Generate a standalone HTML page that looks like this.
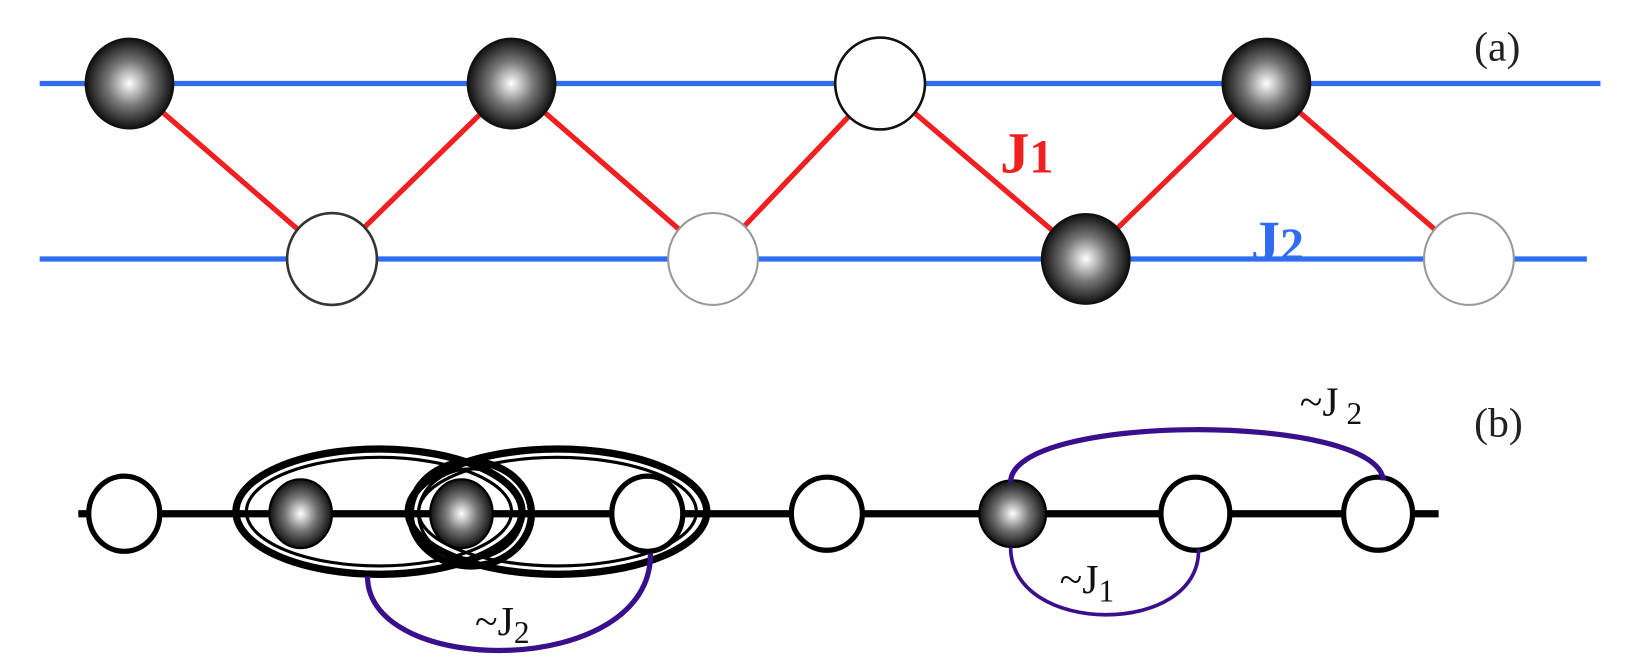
<!DOCTYPE html>
<html><head><style>body{margin:0;background:#fff}</style></head><body>
<svg width="1637" height="662" viewBox="0 0 1568 634" preserveAspectRatio="none" xmlns="http://www.w3.org/2000/svg">
<defs>
<radialGradient id="g" cx="50%" cy="50%" r="50%">
<stop offset="0" stop-color="#fff"/><stop offset="0.5" stop-color="#777"/><stop offset="1" stop-color="#111"/>
</radialGradient>
</defs>
<g stroke="#2f6cf0" stroke-width="5">
<line x1="38" y1="80" x2="1533" y2="80"/>
<line x1="38" y1="248" x2="1520" y2="248"/>
</g>
<g stroke="#f02020" stroke-width="5">
<line x1="124" y1="80" x2="318" y2="248"/>
<line x1="318" y1="248" x2="490" y2="80"/>
<line x1="490" y1="80" x2="683" y2="248"/>
<line x1="683" y1="248" x2="843" y2="80"/>
<line x1="843" y1="80" x2="1040" y2="248"/>
<line x1="1040" y1="248" x2="1213" y2="80"/>
<line x1="1213" y1="80" x2="1407" y2="248"/>
</g>
<g stroke="#111" stroke-width="2">
<ellipse cx="124" cy="80" rx="42" ry="43" fill="url(#g)"/>
<ellipse cx="490" cy="80" rx="42" ry="43" fill="url(#g)"/>
<ellipse cx="843" cy="80" rx="43" ry="44" fill="#fff" stroke-width="2.5"/>
<ellipse cx="1213" cy="80" rx="42" ry="43" fill="url(#g)"/>
<ellipse cx="318" cy="248" rx="43" ry="44" fill="#fff" stroke="#333" stroke-width="2.5"/>
<ellipse cx="683" cy="248" rx="43" ry="44" fill="#fff" stroke="#999"/>
<ellipse cx="1040" cy="248" rx="42" ry="43" fill="url(#g)"/>
<ellipse cx="1407" cy="248" rx="43" ry="44" fill="#fff" stroke="#999"/>
</g>
<text x="958" y="165" font-family="Liberation Serif, serif" font-weight="bold" font-size="56" fill="#f02020">J<tspan font-size="46" font-weight="bold">1</tspan></text>
<text x="1198" y="250" font-family="Liberation Serif, serif" font-weight="bold" font-size="56" fill="#2f6cf0">J<tspan font-size="46" font-weight="bold">2</tspan></text>
<text x="1412" y="58" font-family="Liberation Serif, serif" font-size="40" fill="#222">(a)</text>
<text x="1412" y="418" font-family="Liberation Serif, serif" font-size="40" fill="#222">(b)</text>

<line x1="75" y1="492" x2="1378" y2="492" stroke="#000" stroke-width="7"/>
<g fill="none" stroke="#000" stroke-width="7">
<ellipse cx="363" cy="490" rx="137" ry="60"/>
<ellipse cx="363" cy="490" rx="127" ry="52" stroke-width="3"/>
<ellipse cx="534" cy="490" rx="143" ry="60"/>
<ellipse cx="534" cy="490" rx="133" ry="52" stroke-width="3"/>
<ellipse cx="451" cy="492" rx="58" ry="50"/>
<ellipse cx="451" cy="492" rx="50" ry="43" stroke-width="3"/>
</g>
<g stroke="#000" stroke-width="5">
<ellipse cx="119" cy="492" rx="34" ry="36" fill="#fff"/>
<ellipse cx="288" cy="492" rx="30" ry="33" fill="url(#g)" stroke-width="2"/>
<ellipse cx="442" cy="492" rx="30" ry="33" fill="url(#g)" stroke-width="2"/>
<ellipse cx="620" cy="492" rx="34" ry="36" fill="#fff"/>
<ellipse cx="792" cy="492" rx="34" ry="35" fill="#fff"/>
<ellipse cx="970" cy="492" rx="32" ry="32" fill="url(#g)" stroke-width="2"/>
<ellipse cx="1145" cy="492" rx="33" ry="35" fill="#fff"/>
<ellipse cx="1320" cy="492" rx="33" ry="35" fill="#fff"/>
</g>
<g fill="none" stroke="#3a0f8c" stroke-width="5">
<path d="M352 552 C352 650 625 650 623 530"/>
<path d="M968 462 C968 395 1320 395 1325 460"/>
<path d="M968 524 C968 610 1150 610 1148 526" stroke-width="3.5"/>
</g>
<text x="455" y="608" font-family="Liberation Serif, serif" font-size="40" fill="#111">~J<tspan font-size="30" dy="8">2</tspan></text>
<text x="1015" y="568" font-family="Liberation Serif, serif" font-size="40" fill="#111">~J<tspan font-size="30" dy="8">1</tspan></text>
<text x="1245" y="398" font-family="Liberation Serif, serif" font-size="40" fill="#111">~J<tspan font-size="30" dy="8"> 2</tspan></text>
</svg>
</body></html>
